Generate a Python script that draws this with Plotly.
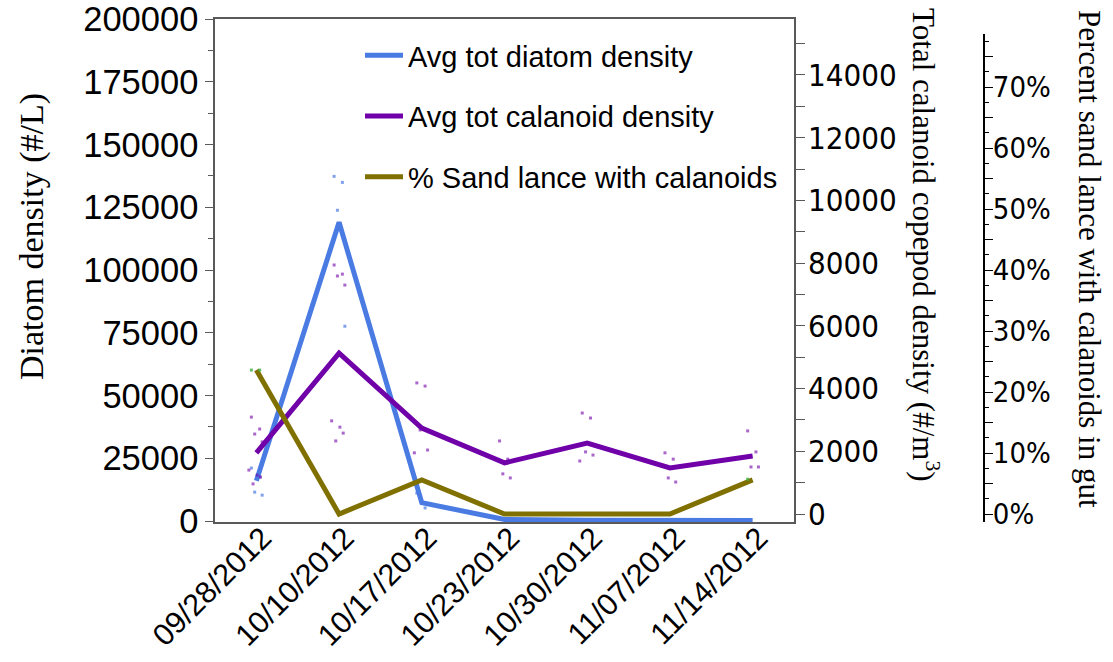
import plotly.graph_objects as go

dates = ["09/28/2012", "10/10/2012", "10/17/2012", "10/23/2012",
         "10/30/2012", "11/07/2012", "11/14/2012"]

# averages (lines)
diatom_avg = [16000, 119000, 7300, 600, 300, 200, 200]
calanoid_avg = [1950, 5130, 2740, 1630, 2260, 1470, 1850]
pct_sandlance = [0.236, 0.0, 0.056, 0.0, 0.0, 0.0, 0.056]

# replicate samples (small dots)
diatom_reps = [[21100, 17500, 11500, 10300],
               [137300, 134900, 123800, 77600],
               [11100, 5200],
               [], [], [], []]
calanoid_reps = [[3090, 2710, 2550, 2300, 1400, 1240, 1180, 960],
                 [7940, 7650, 7590, 7300, 2970, 2770, 2580, 2330],
                 [4180, 4080, 2680, 2040, 1950],
                 [2330, 1750, 1280, 1150],
                 [3220, 3060, 1980, 1880, 1690],
                 [1950, 1750, 1150, 1020],
                 [2650, 1980, 1500, 1500]]
pct_reps = [[0.236, 0.236], [], [], [], [], [], [0.057]]

BLUE = "#4a7be3"
PURPLE = "#7000a8"
OLIVE = "#7f7000"
AXGRAY = "#595959"
ARIAL = "Arial, Liberation Sans, sans-serif"
NARROW = "Liberation Sans Narrow, Arial Narrow, DejaVu Sans Condensed, sans-serif"
SERIF = "Times New Roman, Liberation Serif, serif"

idx = list(range(len(dates)))
jitter = [-0.06, 0.04, -0.02, 0.07, -0.09, 0.01, 0.05, -0.04]


def flatten(reps):
    xs, ys = [], []
    for i, vals in enumerate(reps):
        for k, v in enumerate(vals):
            xs.append(i + jitter[k % len(jitter)])
            ys.append(v)
    return xs, ys


fig = go.Figure()

fig.add_trace(go.Scatter(x=idx, y=diatom_avg, mode="lines", name="Avg tot diatom density",
                         line=dict(color=BLUE, width=5), yaxis="y", legendgroup="a"))
fig.add_trace(go.Scatter(x=idx, y=calanoid_avg, mode="lines", name="Avg tot calanoid density",
                         line=dict(color=PURPLE, width=5), yaxis="y2", legendgroup="b"))
fig.add_trace(go.Scatter(x=idx, y=pct_sandlance, mode="lines", name="% Sand lance with calanoids",
                         line=dict(color=OLIVE, width=5), yaxis="y3", legendgroup="c"))

dx, dy = flatten(diatom_reps)
fig.add_trace(go.Scatter(x=dx, y=dy, mode="markers", showlegend=False, yaxis="y",
                         marker=dict(symbol="square", size=3, color=BLUE, opacity=0.7)))
cx, cy = flatten(calanoid_reps)
fig.add_trace(go.Scatter(x=cx, y=cy, mode="markers", showlegend=False, yaxis="y2",
                         marker=dict(symbol="square", size=3, color=PURPLE, opacity=0.6)))
px_, py_ = flatten(pct_reps)
fig.add_trace(go.Scatter(x=px_, y=py_, mode="markers", showlegend=False, yaxis="y3",
                         marker=dict(symbol="square", size=3, color="#3cb040", opacity=0.8)))

W, H = 1113, 662
ML, MR, MT, MB = 215, 20, 19, 140
PW, PH = W - ML - MR, H - MT - MB


def px(xpix):
    return (xpix - ML) / PW


def py(ypix):
    return 1 - (ypix - MT) / PH


left_ticks = list(range(0, 200001, 25000))
left_minor = [v + 12500 for v in left_ticks[:-1]]
cal_ticks = list(range(0, 14001, 2000))
cal_minor = list(range(1000, 15001, 2000))
pct_ticks = [i * 0.05 for i in range(16)]
pct_text = [f"{int(round(v * 100))}%" if i % 2 == 0 else "" for i, v in enumerate(pct_ticks)]
pct_minor = [i * 0.05 + 0.025 for i in range(16)]

fig.update_layout(
    width=W, height=H,
    margin=dict(l=ML, r=MR, t=MT, b=MB, autoexpand=False),
    paper_bgcolor="white", plot_bgcolor="rgba(0,0,0,0)",
    xaxis=dict(domain=[0, px(794)], range=[-0.5, 6.5], tickvals=idx, ticktext=dates,
               tickangle=-45, showline=True, linecolor=AXGRAY, linewidth=1.5, mirror=True,
               ticks="", showgrid=False, zeroline=False, automargin=False,
               ticklabelstandoff=-16, ticklabelshift=6,
               tickfont=dict(family=ARIAL, size=30.5, color="black")),
    yaxis=dict(range=[-400, 200000], tickvals=left_ticks, tickformat="d",
               ticks="outside", ticklen=8,
               tickcolor=AXGRAY, tickwidth=1.3, automargin=False,
               minor=dict(tickvals=left_minor, ticks="outside", ticklen=5, tickcolor=AXGRAY),
               showline=True, linecolor=AXGRAY, linewidth=1.5, mirror=True,
               showgrid=False, zeroline=False,
               tickfont=dict(family=ARIAL, size=34.5, color="black")),
    yaxis2=dict(overlaying="y", side="right", anchor="x", range=[-255, 15785],
                tickvals=cal_ticks, tickformat="d", automargin=False,
                ticks="outside", ticklen=9, tickcolor=AXGRAY, tickwidth=1.3,
                ticklabelstandoff=-3,
                minor=dict(tickvals=cal_minor, ticks="outside", ticklen=9, tickcolor=AXGRAY),
                showline=True, linecolor=AXGRAY, linewidth=1.5,
                showgrid=False, zeroline=False,
                tickfont=dict(family=NARROW, size=31, color="black")),
    yaxis3=dict(anchor="free", position=px(984), side="right", automargin=False,
                domain=[0, py(34)], range=[-0.0131, 0.787],
                tickvals=pct_ticks, ticktext=pct_text, ticks="outside", ticklen=8,
                tickcolor="black", tickwidth=1.3, ticklabelstandoff=-6,
                minor=dict(tickvals=pct_minor, ticks="outside", ticklen=4, tickcolor="black"),
                showline=True, linecolor="black", linewidth=2,
                showgrid=False, zeroline=False,
                tickfont=dict(family=NARROW, size=29, color="black")),
    legend=dict(x=px(360), y=py(30), xanchor="left", yanchor="top",
                bgcolor="rgba(0,0,0,0)", traceorder="grouped", tracegroupgap=20,
                itemwidth=38,
                font=dict(family=ARIAL, size=29, color="black")),
    annotations=[
        dict(text="Diatom density (#/L)", textangle=-90, x=px(32), y=py(237),
             xref="paper", yref="paper", xanchor="center", yanchor="middle", showarrow=False,
             font=dict(family=SERIF, size=34, color="black")),
        dict(text="Total calanoid copepod density (#/m<sup>3</sup>)", textangle=90,
             x=px(925), y=py(245), xref="paper", yref="paper", xanchor="center",
             yanchor="middle", showarrow=False,
             font=dict(family=SERIF, size=31, color="black")),
        dict(text="Percent sand lance with calanoids in gut", textangle=90,
             x=px(1090), y=py(259), xref="paper", yref="paper", xanchor="center",
             yanchor="middle", showarrow=False,
             font=dict(family=SERIF, size=31, color="black")),
    ],
)

fig.write_html("out.html")
